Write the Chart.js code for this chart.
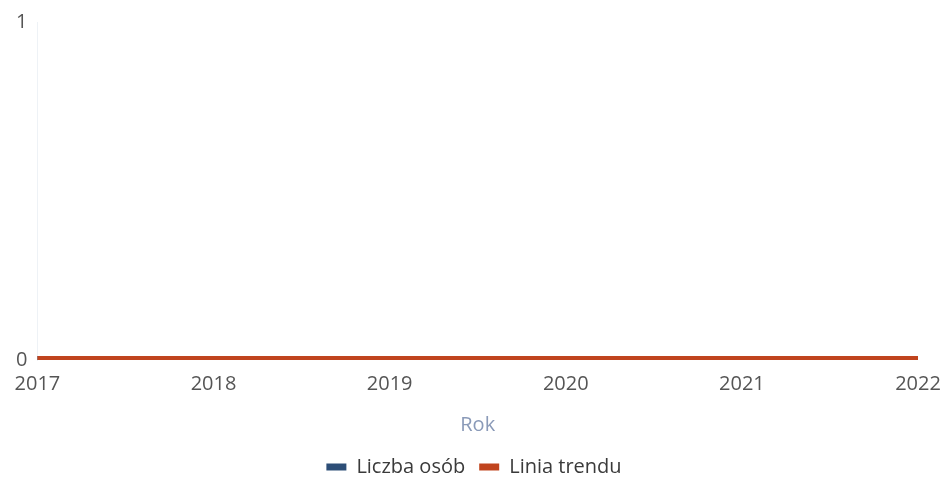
<!DOCTYPE html>
<html>
<head>
<meta charset="utf-8">
<script src="https://cdn.jsdelivr.net/npm/chart.js@4"></script>
<style>
  html, body { margin: 0; padding: 0; background: #fff; }
  #wrap { width: 942px; height: 480px; }
</style>
</head>
<body>
<div id="wrap"><canvas id="chart-rok"></canvas></div>
<script>
'use strict'

// dane
const LATA = ['2017', '2018', '2019', '2020', '2021', '2022'] ;
const LICZBA_OSOB = [0, 0, 0, 0, 0, 0] ;
const LINIA_TRENDU = [0, 0, 0, 0, 0, 0] ;
const Y_TICKS = [0, 1] ;

const FONT = 'Open Sans' ;

new Chart(document.getElementById('chart-rok'), {
    type: 'line',
    data: {
        labels: LATA,
        datasets: [
            {
                label: 'Liczba osób',
                data: LICZBA_OSOB,
                borderColor: '#2d4e77',
                backgroundColor: '#2d4e77',
                borderWidth: 8,
                pointRadius: 0,
                order: 2,
            },
            {
                label: 'Linia trendu',
                data: LINIA_TRENDU,
                borderColor: '#c0441e',
                backgroundColor: '#c0441e',
                borderWidth: 8,
                pointRadius: 0,
                order: 1,
            }
        ]
    },
    options: {
        responsive: true,
        maintainAspectRatio: false,
        animation: false,
        layout: { padding: { top: 8, right: 0, left: 6, bottom: -7 } },
        plugins: {
            legend: {
                position: 'bottom',
                labels: {
                    boxWidth: 20,
                    boxHeight: 7,
                    padding: 14,
                    color: '#3a3a3a',
                    font: { size: 20, family: FONT },
                    sort: (a, b) => a.datasetIndex - b.datasetIndex,
                    generateLabels: chart => Chart.defaults.plugins.legend.labels.generateLabels(chart)
                        .map(l => ({ ...l, lineWidth: 0 })),
                }
            },
            tooltip: { enabled: false }
        },
        scales: {
            x: {
                type: 'category',
                offset: false,
                grid: { display: false, drawTicks: false },
                border: { display: false },
                afterFit: axis => { axis.paddingRight = 24 ; },
                ticks: {
                    color: '#555',
                    padding: 12,
                    maxRotation: 0,
                    font: { size: 20, family: FONT },
                },
                title: {
                    display: true,
                    text: 'Rok',
                    color: '#8a9ab8',
                    padding: { top: 5, bottom: 6 },
                    font: { size: 20, family: FONT },
                }
            },
            y: {
                min: 0,
                max: 1,
                afterBuildTicks: axis => { axis.ticks = Y_TICKS.map(v => ({ value: v })) ; },
                grid: { display: false, drawTicks: false },
                border: { display: true, color: '#eef2f6', width: 1 },
                ticks: {
                    color: '#555',
                    padding: 10,
                    font: { size: 20, family: FONT },
                }
            }
        }
    }
}) ;
</script>
</body>
</html>
